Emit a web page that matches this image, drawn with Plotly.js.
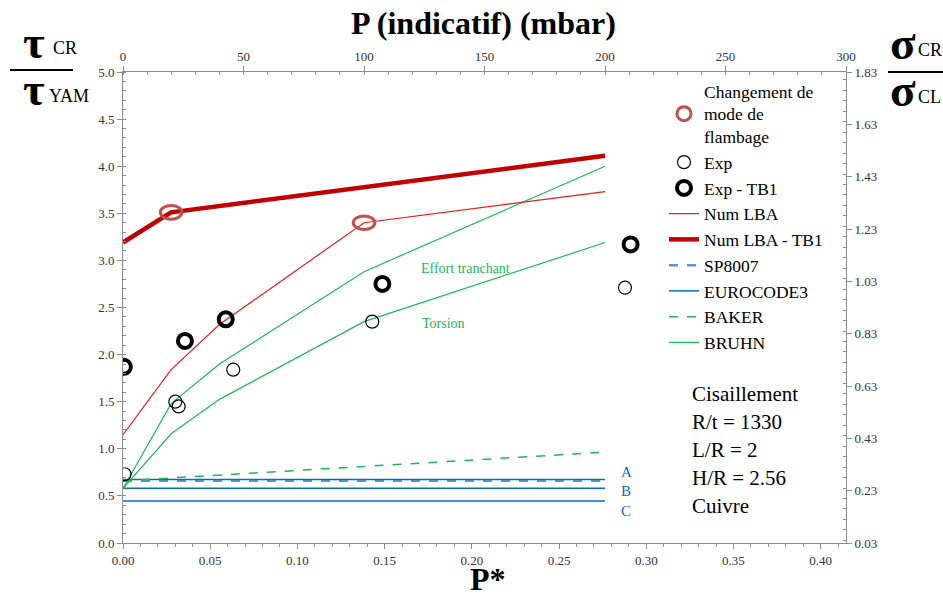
<!DOCTYPE html>
<html>
<head>
<meta charset="utf-8">
<script src="https://cdn.plot.ly/plotly-3.0.1.min.js"></script>
<style>html,body{margin:0;padding:0;background:#fff;}#chart{width:943px;height:597px;}</style>
</head>
<body>
<div id="chart"></div>
<script>
// ---- data (P* values; P = 0, 20, 40, 100, 200 mbar) ----
const pStarNum = [0, 0.0276, 0.0553, 0.1382, 0.2764];
const numLBA = [1.15, 1.84, 2.32, 3.40, 3.73];
const pStarTB1 = [0, 0.0276, 0.2764];
const numLBA_TB1 = [3.19, 3.51, 4.11];
const bruhnEffort = [0.58, 1.48, 1.90, 2.88, 4.00];
const bruhnTorsion = [0.58, 1.16, 1.525, 2.35, 3.19];
const pStarEnds = [0, 0.2764];
const baker = [0.66, 0.965];
const sp8007 = [0.66, 0.66];
const eurocodeA = [0.675, 0.675];
const eurocodeB = [0.58, 0.58];
const eurocodeC = [0.445, 0.445];
const expX = [0.0009, 0.030, 0.0319, 0.0632, 0.1429, 0.2878];
const expY = [0.73, 1.50, 1.45, 1.84, 2.35, 2.71];
const expTB1X = [0.0005, 0.0355, 0.0589, 0.1487, 0.291];
const expTB1Y = [1.87, 2.145, 2.375, 2.75, 3.17];
const changeX = [0.0276, 0.1382];
const changeY = [3.51, 3.40];
const eurocodeLabels = ['A', 'B', 'C'];
const infoLines = ['Cisaillement', 'R/t = 1330', 'L/R = 2', 'H/R = 2.56', 'Cuivre'];

// ---- layout helpers (pixel -> paper) ----
const L = 123, R = 846, T = 72, B = 543;
const px = x => (x - L) / (R - L);
const py = y => (B - y) / (B - T);
const SERIF = 'Liberation Serif';
const RED = '#e0201c', DARKRED = '#c00000', ROSE = '#c0504d';
const BLUE = '#0070c0', LIGHTBLUE = '#5b9bd5', GREEN = '#1db954';

const traces = [
  {x: pStarEnds, y: sp8007, mode: 'lines', name: 'SP8007', legendrank: 6,
   line: {color: LIGHTBLUE, width: 2.5, dash: 'dash'}},
  {x: pStarEnds, y: eurocodeA, mode: 'lines', name: 'EUROCODE3', legendrank: 7,
   line: {color: BLUE, width: 1.5}},
  {x: pStarEnds, y: eurocodeB, mode: 'lines', name: 'EUROCODE3 B', showlegend: false,
   line: {color: BLUE, width: 1.5}},
  {x: pStarEnds, y: eurocodeC, mode: 'lines', name: 'EUROCODE3 C', showlegend: false,
   line: {color: BLUE, width: 1.5}},
  {x: pStarEnds, y: baker, mode: 'lines', name: 'BAKER', legendrank: 8,
   line: {color: GREEN, width: 1.5, dash: 'dash'}},
  {x: pStarNum, y: bruhnEffort, mode: 'lines', name: 'BRUHN', legendrank: 9,
   line: {color: GREEN, width: 1.2}},
  {x: pStarNum, y: bruhnTorsion, mode: 'lines', name: 'BRUHN T', showlegend: false,
   line: {color: GREEN, width: 1.2}},
  {x: pStarNum, y: numLBA, mode: 'lines', name: 'Num LBA', legendrank: 4,
   line: {color: RED, width: 1.2}},
  {x: pStarTB1, y: numLBA_TB1, mode: 'lines', name: 'Num LBA - TB1', legendrank: 5,
   line: {color: DARKRED, width: 4.5}},
  {x: [null], y: [null], mode: 'markers', name: 'Changement de<br>mode de<br>flambage', legendrank: 1,
   marker: {symbol: 'circle-open', size: 14, color: ROSE, line: {width: 3, color: ROSE}}},
  {x: expX, y: expY, mode: 'markers', name: 'Exp', legendrank: 2,
   marker: {symbol: 'circle-open', size: 13, color: '#000', line: {width: 1.2, color: '#000'}}},
  {x: expTB1X, y: expTB1Y, mode: 'markers', name: 'Exp - TB1', legendrank: 3,
   marker: {symbol: 'circle-open', size: 14, color: '#000', line: {width: 4, color: '#000'}}},
  // helper traces so the secondary axes are drawn
  {x: [null], y: [null], xaxis: 'x2', yaxis: 'y', mode: 'none', showlegend: false, hoverinfo: 'skip'},
  {x: [null], y: [null], xaxis: 'x', yaxis: 'y2', mode: 'none', showlegend: false, hoverinfo: 'skip'}
];

const tickFont = {family: SERIF, size: 13, color: '#333333'};
const axisCommon = {showgrid: false, zeroline: false, showline: true, linecolor: '#8c8c8c', linewidth: 1,
  ticks: 'outside', ticklen: 5, tickcolor: '#8c8c8c', tickfont: tickFont};

const shapes = changeX.map((x, i) => ({
  type: 'circle', xref: 'x', yref: 'y', layer: 'above',
  x0: x - 0.0062, x1: x + 0.0062, y0: changeY[i] - 0.072, y1: changeY[i] + 0.072,
  line: {color: ROSE, width: 3}, fillcolor: 'rgba(0,0,0,0)'
}));
// fraction bars for axis labels
shapes.push({type: 'line', xref: 'paper', yref: 'paper', x0: px(10), x1: px(73), y0: py(70), y1: py(70), line: {color: '#000', width: 2}});
shapes.push({type: 'line', xref: 'paper', yref: 'paper', x0: px(888), x1: px(943), y0: py(72), y1: py(72), line: {color: '#000', width: 2}});

const ann = [];
const big = {family: SERIF, size: 32, color: '#000', weight: 'bold'};
ann.push({text: 'P (indicatif) (mbar)', xref: 'paper', yref: 'paper', x: px(483), y: py(23),
  showarrow: false, font: big, xanchor: 'center', yanchor: 'middle'});
ann.push({text: 'P*', xref: 'paper', yref: 'paper', x: px(488), y: py(579),
  showarrow: false, font: big, xanchor: 'center', yanchor: 'middle'});
const greek = {family: SERIF, size: 47, color: '#000', weight: 'bold'};
const sub = {family: SERIF, size: 18, color: '#000'};
// left label tau_CR / tau_YAM
ann.push({text: 'τ', xref: 'paper', yref: 'paper', x: px(34), y: py(42), showarrow: false,
  font: greek, xanchor: 'center', yanchor: 'middle'});
ann.push({text: 'CR', xref: 'paper', yref: 'paper', x: px(51), y: py(48), showarrow: false,
  font: sub, xanchor: 'left', yanchor: 'middle'});
ann.push({text: 'τ', xref: 'paper', yref: 'paper', x: px(34), y: py(89), showarrow: false,
  font: greek, xanchor: 'center', yanchor: 'middle'});
ann.push({text: 'YAM', xref: 'paper', yref: 'paper', x: px(47), y: py(96), showarrow: false,
  font: sub, xanchor: 'left', yanchor: 'middle'});
// right label sigma_CR / sigma_CL
ann.push({text: 'σ', xref: 'paper', yref: 'paper', x: px(903), y: py(43), showarrow: false,
  font: greek, xanchor: 'center', yanchor: 'middle'});
ann.push({text: 'CR', xref: 'paper', yref: 'paper', x: px(916), y: py(50), showarrow: false,
  font: sub, xanchor: 'left', yanchor: 'middle'});
ann.push({text: 'σ', xref: 'paper', yref: 'paper', x: px(903), y: py(90), showarrow: false,
  font: greek, xanchor: 'center', yanchor: 'middle'});
ann.push({text: 'CL', xref: 'paper', yref: 'paper', x: px(916), y: py(97), showarrow: false,
  font: sub, xanchor: 'left', yanchor: 'middle'});
// curve labels
ann.push({text: 'Effort tranchant', xref: 'paper', yref: 'paper', x: px(465), y: py(268), showarrow: false,
  font: {family: SERIF, size: 14, color: GREEN}, xanchor: 'center', yanchor: 'middle'});
ann.push({text: 'Torsion', xref: 'paper', yref: 'paper', x: px(443), y: py(323), showarrow: false,
  font: {family: SERIF, size: 14, color: GREEN}, xanchor: 'center', yanchor: 'middle'});
const abcY = [472, 491, 511];
eurocodeLabels.forEach((t, i) => ann.push({text: t, xref: 'paper', yref: 'paper', x: px(626), y: py(abcY[i]),
  showarrow: false, font: {family: SERIF, size: 15, color: BLUE}, xanchor: 'center', yanchor: 'middle'}));
infoLines.forEach((t, i) => ann.push({text: t, xref: 'paper', yref: 'paper', x: px(690), y: py(394 + i * 28),
  showarrow: false, font: {family: SERIF, size: 21, color: '#000'}, xanchor: 'left', yanchor: 'middle'}));

const layout = {
  width: 943, height: 597,
  font: {family: SERIF},
  margin: {l: L, r: 943 - R, t: T, b: 597 - B, pad: 0},
  paper_bgcolor: '#fff', plot_bgcolor: '#fff',
  showlegend: true,
  legend: {x: px(664), y: py(73), xanchor: 'left', yanchor: 'top', bgcolor: 'rgba(0,0,0,0)',
    font: {family: SERIF, size: 17.5, color: '#000'}, traceorder: 'normal', tracegroupgap: 0, itemwidth: 30},
  xaxis: Object.assign({}, axisCommon, {range: [0, 0.4145], dtick: 0.05, tick0: 0, tickformat: '.2f',
    minor: {dtick: 0.01, ticks: 'outside', ticklen: 3, tickcolor: '#8c8c8c'}}),
  xaxis2: Object.assign({}, axisCommon, {overlaying: 'x', side: 'top', anchor: 'y', range: [0, 300], dtick: 50, tick0: 0,
    minor: {dtick: 10, ticks: 'inside', ticklen: 3, tickcolor: '#8c8c8c'}}),
  yaxis: Object.assign({}, axisCommon, {range: [0, 5], dtick: 0.5, tick0: 0, tickformat: '.1f',
    minor: {dtick: 0.1, ticks: 'inside', ticklen: 3, tickcolor: '#8c8c8c'}}),
  yaxis2: Object.assign({}, axisCommon, {overlaying: 'y', side: 'right', anchor: 'x', range: [0.03, 1.83], dtick: 0.2, tick0: 0.03, tickformat: '.2f',
    minor: {dtick: 0.04, ticks: 'inside', ticklen: 3, tickcolor: '#8c8c8c'}}),
  shapes: shapes,
  annotations: ann
};

Plotly.newPlot('chart', traces, layout, {displayModeBar: false, staticPlot: true});
</script>
</body>
</html>
